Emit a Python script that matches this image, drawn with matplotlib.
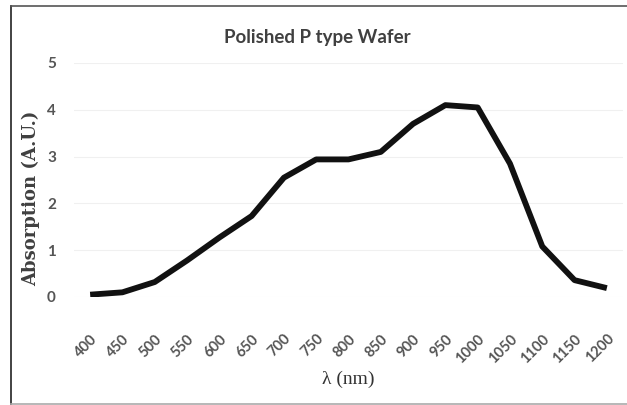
import numpy as np
import matplotlib
matplotlib.use("Agg")
import matplotlib.pyplot as plt
from matplotlib.lines import Line2D

# data
wavelength = [400, 450, 500, 550, 600, 650, 700, 750, 800, 850,
              900, 950, 1000, 1050, 1100, 1150, 1200]
absorption = [0.05, 0.10, 0.32, 0.78, 1.27, 1.73, 2.55, 2.94, 2.94, 3.10,
              3.70, 4.10, 4.05, 2.85, 1.08, 0.36, 0.19]
y_ticks = [0, 1, 2, 3, 4, 5]

fig = plt.figure(figsize=(6.27, 4.05), dpi=100)
ax = fig.add_axes([74 / 627, 1 - 297 / 405, 549 / 627, 234 / 405])

ax.plot(wavelength, absorption, color='#111111', linewidth=4.2,
        solid_joinstyle='round', solid_capstyle='butt')

ax.set_xlim(375, 1225)
ax.set_ylim(0, 5)
ax.set_xticks(wavelength)
ax.set_xticklabels([str(w) for w in wavelength], rotation=45, ha='right',
                   va='top', rotation_mode='anchor', color='#555555',
                   fontsize=10.5, family='Lato', fontweight='bold')
ax.set_yticks(y_ticks)
ax.set_yticklabels([str(v) for v in y_ticks], color='#555555',
                   fontsize=11, family='Lato', fontweight='bold')
ax.tick_params(axis='x', length=0, pad=25)
ax.tick_params(axis='y', length=0, pad=13)
ax.grid(axis='y', color='#f0f0f0', linewidth=0.8)
ax.set_axisbelow(True)
for s in ax.spines.values():
    s.set_visible(False)

fig.text(317 / 627, 1 - 38 / 405, 'Polished P type Wafer', ha='center',
         va='center', fontsize=13.5, color='#404040', family='Lato',
         fontweight='bold')
fig.text(31 / 627, 1 - 198 / 405, 'Absorption (A.U.)', rotation=90,
         ha='center', va='center', fontsize=13, fontweight='bold',
         color='#404040', family='DejaVu Serif')
fig.text(348 / 627, 1 - 379 / 405, 'λ (nm)', ha='center', va='center',
         fontsize=14, color='#333333', family='Liberation Serif')

# outer frame of the picture
fig.add_artist(Line2D([11 / 627, 11 / 627], [1 - 6 / 405, 1 - 404 / 405],
                      transform=fig.transFigure, color='#222222', lw=1.2))
fig.add_artist(Line2D([11 / 627, 1], [1 - 6 / 405, 1 - 6 / 405],
                      transform=fig.transFigure, color='#555555', lw=1.2))
fig.add_artist(Line2D([11 / 627, 1], [1 - 404 / 405, 1 - 404 / 405],
                      transform=fig.transFigure, color='#aaaaaa', lw=1.2))

fig.savefig('out.png', dpi=100)
